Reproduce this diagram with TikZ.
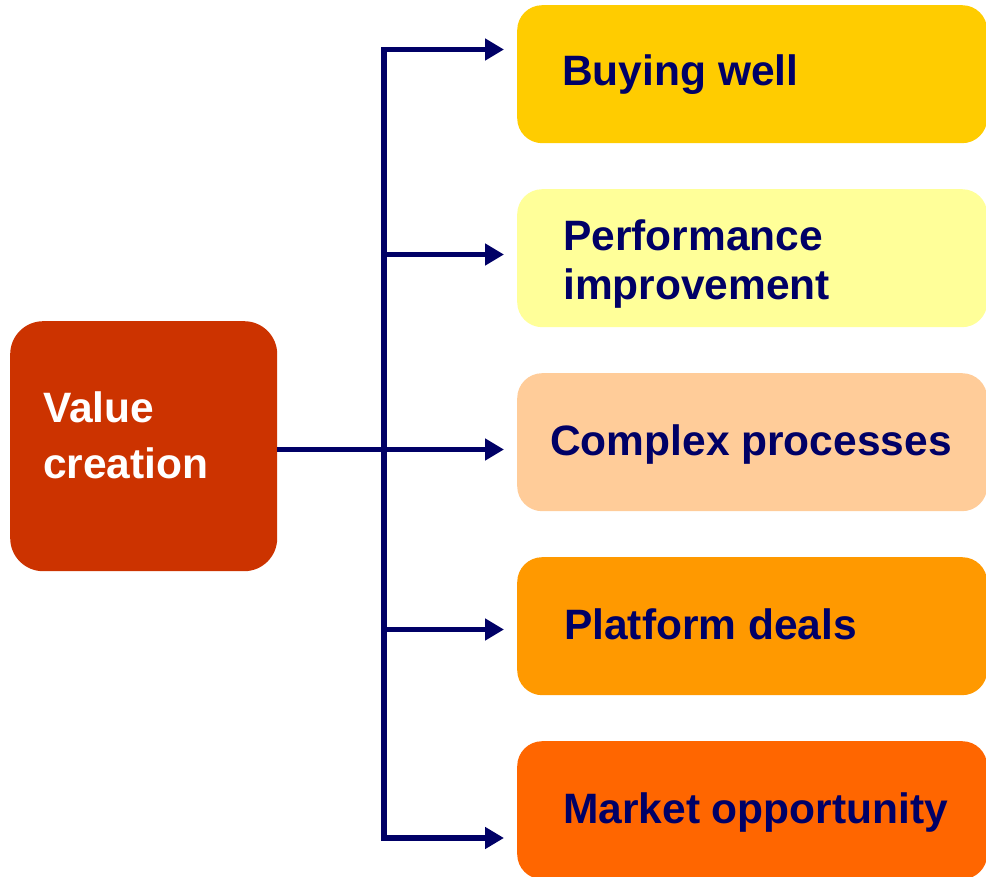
\documentclass[tikz,border=0pt]{standalone}
\usepackage{fontspec}
\setmainfont{Liberation Sans}
\usetikzlibrary{arrows.meta}

\definecolor{navy}{HTML}{000066}
\definecolor{rust}{HTML}{CC3300}
\definecolor{gold}{HTML}{FFCC00}
\definecolor{paleyellow}{HTML}{FFFF99}
\definecolor{peach}{HTML}{FFCC99}
\definecolor{amber}{HTML}{FF9900}
\definecolor{tangerine}{HTML}{FF6600}

\tikzset{
  x=1pt, y=-1pt,
  sourcebox/.style={draw=none, fill=rust, rounded corners=33pt,
    minimum width=267pt, minimum height=250pt, inner sep=0pt, anchor=north west},
  targetbox/.style={draw=none, rounded corners=25pt,
    minimum width=470pt, minimum height=138pt, inner sep=0pt, anchor=north west},
  label/.style={anchor=base west, inner sep=0pt, text=navy,
    font=\fontsize{42.5}{49}\selectfont\bfseries},
  whitelabel/.style={label, text=white},
  link/.style={draw=navy, line width=5.5pt, line join=miter},
  tip/.style={-{Triangle[length=19pt,width=21pt]}},
}

\begin{document}
\begin{tikzpicture}
  \useasboundingbox (0,0) rectangle (986,877);
  \begin{scope}
    \clip (0,0) rectangle (986,877);

    % source box
    \node[sourcebox] (vc) at (10,321) {};
    \node[whitelabel] (vc1) at (43,422) {Value};
    \node[whitelabel] (vc2) at (43,478) {creation};

    % target boxes
    \node[targetbox, fill=gold]       (b1) at (517,5)   {};
    \node[targetbox, fill=paleyellow] (b2) at (517,189) {};
    \node[targetbox, fill=peach]      (b3) at (517,373) {};
    \node[targetbox, fill=amber]      (b4) at (517,557) {};
    \node[targetbox, fill=tangerine]  (b5) at (517,741) {};

    \node[label] (l1)  at (562,86)  {Buying well};
    \node[label] (l2a) at (563,251) {Performance};
    \node[label] (l2b) at (563,300) {improvement};
    \node[label] (l3)  at (550,455) {Complex processes};
    \node[label] (l4)  at (564,639) {Platform deals};
    \node[label] (l5)  at (563,823) {Market opportunity};

    % branch points on the spine and arrow tips
    \coordinate (j1) at (384,49.5);
    \coordinate (j2) at (384,254.5);
    \coordinate (j4) at (384,629.5);
    \coordinate (j5) at (384,838);
    \coordinate (t1) at (504,49.5);
    \coordinate (t2) at (504,254.5);
    \coordinate (t3) at (504,449.5);
    \coordinate (t4) at (504,629.5);
    \coordinate (t5) at (504,838);

    % spine with the outer branches
    \draw[link, {Triangle[length=19pt,width=21pt]}-{Triangle[length=19pt,width=21pt]}]
      (t1) -- (j1) -- (j5) -- (t5);
    % inner branches
    \draw[link, tip] (j2) -- (t2);
    \draw[link, tip] (j4) -- (t4);
    % main connector from the source box
    \draw[link, tip] (vc.east |- t3) -- (t3);
  \end{scope}
\end{tikzpicture}
\end{document}
